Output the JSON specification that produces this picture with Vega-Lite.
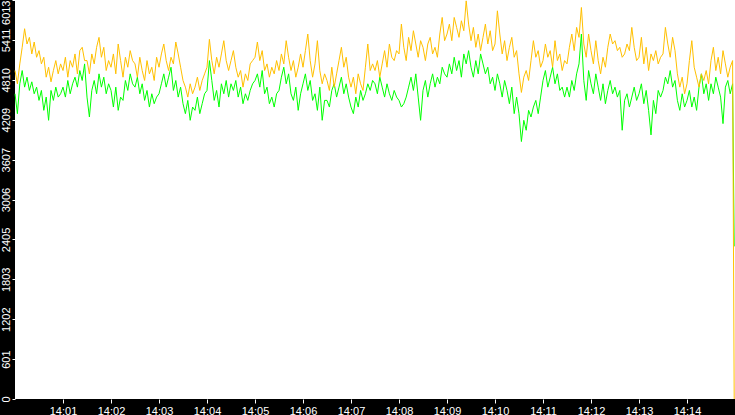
{
  "$schema": "https://vega.github.io/schema/vega-lite/v6.json",
  "width": 720,
  "height": 399,
  "autosize": {"type": "none"},
  "padding": {"left": 15, "top": 0, "right": 0, "bottom": 16},
  "background": "black",
  "config": {
    "view": {"fill": "white", "stroke": null},
    "font": "Liberation Sans"
  },
  "data": {
    "values": [
      {"t":0,"o":4950,"g":4600},{"t":3,"o":4750,"g":4300},{"t":6,"o":5050,"g":4750},{"t":9,"o":5300,"g":4950},{"t":12,"o":5580,"g":4700},{"t":15,"o":5350,"g":4850},{"t":18,"o":5450,"g":4650},{"t":21,"o":5200,"g":4780},{"t":24,"o":5380,"g":4600},{"t":27,"o":5150,"g":4700},
      {"t":30,"o":5250,"g":4500},{"t":33,"o":5050,"g":4650},{"t":36,"o":5150,"g":4350},{"t":39,"o":4850,"g":4550},{"t":42,"o":5000,"g":4200},{"t":45,"o":4780,"g":4650},{"t":48,"o":4950,"g":4500},{"t":51,"o":5100,"g":4700},{"t":54,"o":4900,"g":4550},{"t":57,"o":5050,"g":4600},
      {"t":60,"o":4950,"g":4700},{"t":63,"o":5150,"g":4550},{"t":66,"o":4850,"g":4800},{"t":69,"o":5100,"g":4600},{"t":72,"o":5000,"g":4750},{"t":75,"o":5200,"g":4850},{"t":78,"o":4900,"g":4700},{"t":81,"o":5250,"g":4950},{"t":84,"o":5300,"g":4800},{"t":87,"o":5100,"g":5050},
      {"t":90,"o":5100,"g":4550},{"t":93,"o":4900,"g":4250},{"t":96,"o":5200,"g":4650},{"t":99,"o":5050,"g":4800},{"t":102,"o":5300,"g":4600},{"t":105,"o":5450,"g":4900},{"t":108,"o":5150,"g":4700},{"t":111,"o":5300,"g":4850},{"t":114,"o":4950,"g":4600},{"t":117,"o":5100,"g":4750},
      {"t":120,"o":5000,"g":4650},{"t":123,"o":5200,"g":4400},{"t":126,"o":4900,"g":4700},{"t":129,"o":5350,"g":4350},{"t":132,"o":5100,"g":4550},{"t":135,"o":4850,"g":4500},{"t":138,"o":5150,"g":4800},{"t":141,"o":5000,"g":4650},{"t":144,"o":5250,"g":4900},{"t":147,"o":5100,"g":4750},
      {"t":150,"o":5050,"g":4700},{"t":153,"o":4850,"g":4850},{"t":156,"o":5150,"g":4600},{"t":159,"o":4950,"g":4750},{"t":162,"o":4800,"g":4500},{"t":165,"o":5100,"g":4650},{"t":168,"o":4900,"g":4400},{"t":171,"o":5000,"g":4600},{"t":174,"o":4800,"g":4450},{"t":177,"o":5150,"g":4550},
      {"t":180,"o":5000,"g":4600},{"t":183,"o":5200,"g":4750},{"t":186,"o":5350,"g":4900},{"t":189,"o":5100,"g":4700},{"t":192,"o":4950,"g":4850},{"t":195,"o":5150,"g":5000},{"t":198,"o":5050,"g":4650},{"t":201,"o":5380,"g":4800},{"t":204,"o":5200,"g":4550},{"t":207,"o":5000,"g":4700},
      {"t":210,"o":4800,"g":4450},{"t":213,"o":4700,"g":4300},{"t":216,"o":4550,"g":4500},{"t":219,"o":4750,"g":4200},{"t":222,"o":4600,"g":4400},{"t":225,"o":4700,"g":4350},{"t":228,"o":4850,"g":4550},{"t":231,"o":4650,"g":4300},{"t":234,"o":4800,"g":4450},{"t":237,"o":4900,"g":4600},
      {"t":240,"o":5000,"g":4650},{"t":243,"o":5420,"g":5100},{"t":246,"o":5100,"g":4800},{"t":249,"o":4900,"g":4500},{"t":252,"o":5150,"g":4650},{"t":255,"o":5000,"g":4400},{"t":258,"o":5200,"g":4750},{"t":261,"o":5400,"g":4600},{"t":264,"o":5100,"g":4800},{"t":267,"o":4950,"g":4550},
      {"t":270,"o":5100,"g":4750},{"t":273,"o":5250,"g":4650},{"t":276,"o":5000,"g":4800},{"t":279,"o":4850,"g":4550},{"t":282,"o":4950,"g":4700},{"t":285,"o":4700,"g":4450},{"t":288,"o":4900,"g":4600},{"t":291,"o":4800,"g":4500},{"t":294,"o":5050,"g":4650},{"t":297,"o":5100,"g":4750},
      {"t":300,"o":5150,"g":4800},{"t":303,"o":5380,"g":4900},{"t":306,"o":5100,"g":4700},{"t":309,"o":5250,"g":4950},{"t":312,"o":4950,"g":4600},{"t":315,"o":5050,"g":4700},{"t":318,"o":4850,"g":4450},{"t":321,"o":5000,"g":4550},{"t":324,"o":4900,"g":4400},{"t":327,"o":5100,"g":4600},
      {"t":330,"o":4950,"g":4650},{"t":333,"o":5200,"g":4850},{"t":336,"o":5050,"g":5000},{"t":339,"o":5400,"g":4750},{"t":342,"o":5150,"g":4900},{"t":345,"o":4950,"g":4600},{"t":348,"o":5100,"g":4500},{"t":351,"o":4850,"g":4700},{"t":354,"o":5000,"g":4350},{"t":357,"o":5200,"g":4600},
      {"t":360,"o":5000,"g":4750},{"t":363,"o":5250,"g":4900},{"t":366,"o":5500,"g":4650},{"t":369,"o":5100,"g":4800},{"t":372,"o":4850,"g":4500},{"t":375,"o":5050,"g":4600},{"t":378,"o":5400,"g":4350},{"t":381,"o":4950,"g":4700},{"t":384,"o":4750,"g":4200},{"t":387,"o":4900,"g":4500},
      {"t":390,"o":4800,"g":4500},{"t":393,"o":4650,"g":4400},{"t":396,"o":5000,"g":4650},{"t":399,"o":4700,"g":4750},{"t":402,"o":4900,"g":4550},{"t":405,"o":5100,"g":4700},{"t":408,"o":5300,"g":4850},{"t":411,"o":5000,"g":4600},{"t":414,"o":5150,"g":4750},{"t":417,"o":4850,"g":4550},
      {"t":420,"o":4700,"g":4400},{"t":423,"o":4850,"g":4300},{"t":426,"o":4600,"g":4550},{"t":429,"o":4900,"g":4400},{"t":432,"o":4750,"g":4650},{"t":435,"o":4650,"g":4500},{"t":438,"o":5000,"g":4600},{"t":441,"o":5350,"g":4750},{"t":444,"o":4950,"g":4650},{"t":447,"o":5050,"g":4800},
      {"t":450,"o":4950,"g":4750},{"t":453,"o":5100,"g":4600},{"t":456,"o":4850,"g":4850},{"t":459,"o":5050,"g":4700},{"t":462,"o":5250,"g":4550},{"t":465,"o":5000,"g":4750},{"t":468,"o":5350,"g":4600},{"t":471,"o":5150,"g":4500},{"t":474,"o":5100,"g":4650},{"t":477,"o":5250,"g":4550},
      {"t":480,"o":5200,"g":4500},{"t":483,"o":5650,"g":4400},{"t":486,"o":5300,"g":4450},{"t":489,"o":5100,"g":4550},{"t":492,"o":5450,"g":4700},{"t":495,"o":5250,"g":4850},{"t":498,"o":5550,"g":4650},{"t":501,"o":5350,"g":4900},{"t":504,"o":5150,"g":4550},{"t":507,"o":5400,"g":4200},
      {"t":510,"o":5300,"g":4650},{"t":513,"o":5100,"g":4800},{"t":516,"o":5350,"g":4550},{"t":519,"o":5450,"g":4750},{"t":522,"o":5200,"g":4900},{"t":525,"o":5300,"g":4700},{"t":528,"o":5150,"g":4850},{"t":531,"o":5500,"g":4750},{"t":534,"o":5750,"g":5000},{"t":537,"o":5400,"g":4900},
      {"t":540,"o":5500,"g":4850},{"t":543,"o":5650,"g":5050},{"t":546,"o":5400,"g":4900},{"t":549,"o":5750,"g":5150},{"t":552,"o":5600,"g":4950},{"t":555,"o":5450,"g":5100},{"t":558,"o":5700,"g":4850},{"t":561,"o":5550,"g":5200},{"t":564,"o":6000,"g":5050},{"t":567,"o":5650,"g":5250},
      {"t":570,"o":5400,"g":5000},{"t":573,"o":5600,"g":4850},{"t":576,"o":5300,"g":5100},{"t":579,"o":5500,"g":4900},{"t":582,"o":5250,"g":5200},{"t":585,"o":5450,"g":5050},{"t":588,"o":5650,"g":4900},{"t":591,"o":5350,"g":5000},{"t":594,"o":5550,"g":4750},{"t":597,"o":5250,"g":4850},
      {"t":600,"o":5350,"g":4650},{"t":603,"o":5850,"g":4900},{"t":606,"o":5500,"g":4750},{"t":609,"o":5200,"g":4550},{"t":612,"o":5400,"g":4800},{"t":615,"o":5100,"g":4650},{"t":618,"o":5300,"g":4450},{"t":621,"o":5450,"g":4700},{"t":624,"o":5150,"g":4300},{"t":627,"o":5250,"g":4550},
      {"t":630,"o":4900,"g":4300},{"t":633,"o":4620,"g":3880},{"t":636,"o":4850,"g":4200},{"t":639,"o":4950,"g":4050},{"t":642,"o":4800,"g":4350},{"t":645,"o":5100,"g":4250},{"t":648,"o":5400,"g":4400},{"t":651,"o":5150,"g":4500},{"t":654,"o":5250,"g":4300},{"t":657,"o":5000,"g":4550},
      {"t":660,"o":5100,"g":4800},{"t":663,"o":5350,"g":4950},{"t":666,"o":5150,"g":4700},{"t":669,"o":5250,"g":4850},{"t":672,"o":5000,"g":5000},{"t":675,"o":5400,"g":4750},{"t":678,"o":5100,"g":4900},{"t":681,"o":5200,"g":4650},{"t":684,"o":4950,"g":4700},{"t":687,"o":5100,"g":4550},
      {"t":690,"o":5050,"g":4700},{"t":693,"o":5300,"g":4550},{"t":696,"o":5500,"g":4800},{"t":699,"o":5250,"g":4650},{"t":702,"o":5600,"g":4900},{"t":705,"o":5450,"g":5050},{"t":708,"o":5900,"g":5500},{"t":711,"o":5350,"g":4800},{"t":714,"o":5150,"g":4500},{"t":717,"o":5500,"g":4950},
      {"t":720,"o":5250,"g":4750},{"t":723,"o":5050,"g":4600},{"t":726,"o":5400,"g":4900},{"t":729,"o":5100,"g":4700},{"t":732,"o":4900,"g":4500},{"t":735,"o":5150,"g":4750},{"t":738,"o":5000,"g":4450},{"t":741,"o":5300,"g":4650},{"t":744,"o":5500,"g":4800},{"t":747,"o":5350,"g":4600},
      {"t":750,"o":5400,"g":4700},{"t":753,"o":5250,"g":4550},{"t":756,"o":5300,"g":4650},{"t":759,"o":5150,"g":4050},{"t":762,"o":5200,"g":4500},{"t":765,"o":5350,"g":4600},{"t":768,"o":5250,"g":4400},{"t":771,"o":5600,"g":4550},{"t":774,"o":5300,"g":4700},{"t":777,"o":5100,"g":4500},
      {"t":780,"o":5150,"g":4600},{"t":783,"o":5450,"g":4750},{"t":786,"o":5050,"g":4450},{"t":789,"o":5300,"g":4650},{"t":792,"o":4950,"g":4350},{"t":795,"o":5200,"g":3980},{"t":798,"o":5100,"g":4500},{"t":801,"o":5250,"g":4300},{"t":804,"o":5050,"g":4650},{"t":807,"o":5150,"g":4550},
      {"t":810,"o":5200,"g":4650},{"t":813,"o":5600,"g":4850},{"t":816,"o":5350,"g":4750},{"t":819,"o":5150,"g":4950},{"t":822,"o":5450,"g":4700},{"t":825,"o":5250,"g":4800},{"t":828,"o":4900,"g":4500},{"t":831,"o":4700,"g":4350},{"t":834,"o":4850,"g":4600},{"t":837,"o":4600,"g":4400},
      {"t":840,"o":4750,"g":4500},{"t":843,"o":5100,"g":4650},{"t":846,"o":5400,"g":4400},{"t":849,"o":5000,"g":4550},{"t":852,"o":4850,"g":4350},{"t":855,"o":4700,"g":4700},{"t":858,"o":4900,"g":4900},{"t":861,"o":4800,"g":4600},{"t":864,"o":4950,"g":4750},{"t":867,"o":4750,"g":4500},
      {"t":870,"o":5100,"g":4750},{"t":873,"o":5300,"g":4600},{"t":876,"o":4950,"g":4850},{"t":879,"o":5150,"g":4700},{"t":882,"o":4900,"g":4550},{"t":885,"o":5250,"g":4150},{"t":888,"o":5050,"g":4700},{"t":891,"o":4850,"g":4800},{"t":894,"o":5000,"g":4600},{"t":897,"o":5100,"g":4750},
      {"t":899,"o":0,"g":2300}
    ]
  },
  "transform": [
    {"fold": ["g", "o"], "as": ["series", "value"]}
  ],
  "mark": {"type": "line", "strokeWidth": 1},
  "encoding": {
    "x": {
      "field": "t",
      "type": "quantitative",
      "scale": {"domain": [0, 900], "nice": false, "zero": false},
      "axis": {
        "title": null,
        "grid": false,
        "domain": false,
        "values": [60, 120, 180, 240, 300, 360, 420, 480, 540, 600, 660, 720, 780, 840],
        "labelExpr": "'14:' + (datum.value < 600 ? '0' : '') + (datum.value / 60)",
        "tickColor": "white",
        "tickSize": 4,
        "labelColor": "white",
        "labelFont": "Liberation Sans",
        "labelFontSize": 11,
        "labelPadding": 2
      }
    },
    "y": {
      "field": "value",
      "type": "quantitative",
      "scale": {"domain": [0, 6013], "nice": false},
      "axis": {
        "title": null,
        "grid": false,
        "domain": false,
        "values": [0, 601, 1202, 1803, 2405, 3006, 3607, 4209, 4810, 5411, 6013],
        "format": "d",
        "labelAngle": -90,
        "labelFlush": false,
        "labelAlign": {"condition": {"test": "datum.value > 6000", "value": "right"}, "value": "center"},
        "labelColor": "white",
        "labelFont": "Liberation Sans",
        "labelFontSize": 11,
        "labelPadding": 1,
        "tickColor": "white",
        "tickSize": 3
      }
    },
    "color": {
      "field": "series",
      "type": "nominal",
      "scale": {"domain": ["g", "o"], "range": ["#00ff00", "#ffc000"]},
      "legend": null
    }
  }
}
